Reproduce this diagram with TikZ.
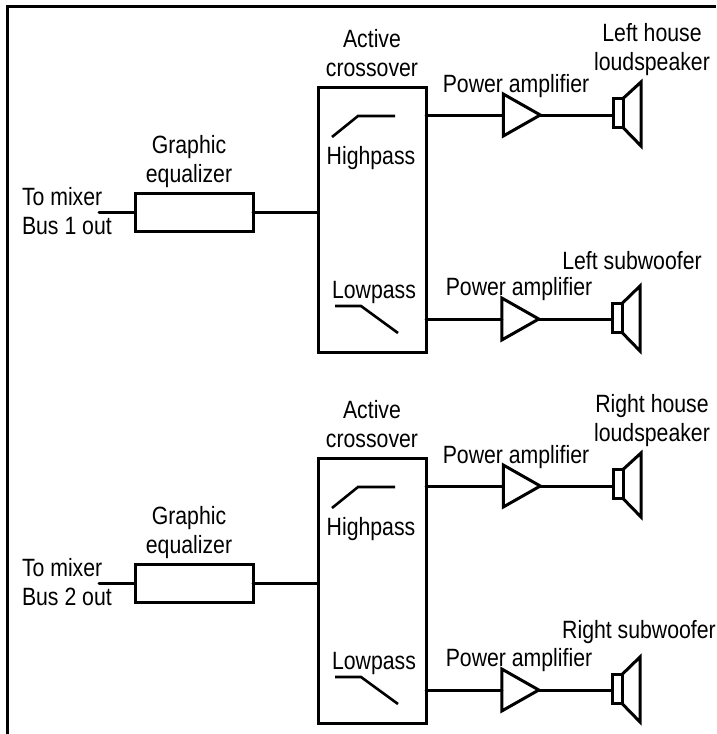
\documentclass[tikz,border=0pt]{standalone}
\usepackage{fontspec}
\setmainfont[FakeStretch=0.85]{Liberation Sans}
\usetikzlibrary{shapes.geometric}
\tikzset{
  x=1pt,y=-1pt,
  wire/.style={line width=3pt,line cap=round,line join=miter},
  thin wire/.style={line width=2.6pt},
  box/.style={draw,line width=3pt,rectangle,inner sep=0pt,outer sep=0pt},
  amp/.style={draw,line width=3pt,isosceles triangle,isosceles triangle stretches,shape border rotate=0,
     minimum width=42pt,minimum height=37pt,inner sep=0pt,outer sep=0pt},
  lbl/.style={font=\fontsize{25pt}{29pt}\selectfont,align=center,inner sep=0pt,outer sep=0pt,anchor=center},
  lbll/.style={lbl,align=left,anchor=west},
}
\newcommand{\channel}[8]{%
  \begin{scope}[yshift=-#1pt,name prefix=#2-]
    \node[lbl] (eqlabel) at (189,162) {Graphic\\equalizer};
    \node[lbll] (mix) at (22,211.5) {To mixer\\Bus #8 out};
    \node[box,minimum width=118pt,minimum height=38pt] (eq) at (194,212) {};
    \node[box,minimum width=108pt,minimum height=265pt] (cross) at (372,219.5) {};
    \node[lbl] (crosslabel) at (372,53.5) {Active\\crossover};
    \node[lbl] (hp) at (371,158) {Highpass};
    \node[lbl] (lp) at (374,292) {Lowpass};
    \coordinate (stub) at (99,212);
    \draw[wire] (stub) -- (eq.west);
    \draw[wire] (eq.east) -- (eq.east -| cross.west);
    \draw[thin wire] (332,137) -- (358,116) -- (395,116);
    \draw[thin wire] (335,306) -- (361,306) -- (398,333);
    % upper branch
    \node[lbl] (pa1) at (516,86) {Power amplifier};
    \node[amp] (a1) at (515.5,115) {};
    \node[box,minimum width=10pt,minimum height=29pt] (s1) at (618,113) {};
    \draw[wire,line join=miter] (s1.north east) -- (641,82) -- (641,146) -- (s1.south east);
    \draw[wire] (a1.west -| cross.east) -- (a1.west);
    \draw[wire] (a1.east) -- (a1.east -| s1.west);
    \node[lbl] (sl1) at (652,49.5) {#3};
    % lower branch
    \node[lbl] (pa2) at (519,289) {Power amplifier};
    \node[amp] (a2) at (514,319) {};
    \node[box,minimum width=10pt,minimum height=29pt] (s2) at (617,318) {};
    \draw[wire,line join=miter] (s2.north east) -- (640,286) -- (640,351) -- (s2.south east);
    \draw[wire] (a2.west -| cross.east) -- (a2.west);
    \draw[wire] (a2.east) -- (a2.east -| s2.west);
    \node[lbl] (sl2) at (#5,261) {#4};
  \end{scope}%
}
\begin{document}
\begin{tikzpicture}
\useasboundingbox (0,0) rectangle (716,734);
\draw[line width=3pt] (7,734) -- (7,6) -- (716,6);
\channel{371}{b}{Right house\\loudspeaker}{Right subwoofer}{639}{}{}{2}
\channel{0}{a}{Left house\\loudspeaker}{Left subwoofer}{632}{}{}{1}
\end{tikzpicture}
\end{document}
